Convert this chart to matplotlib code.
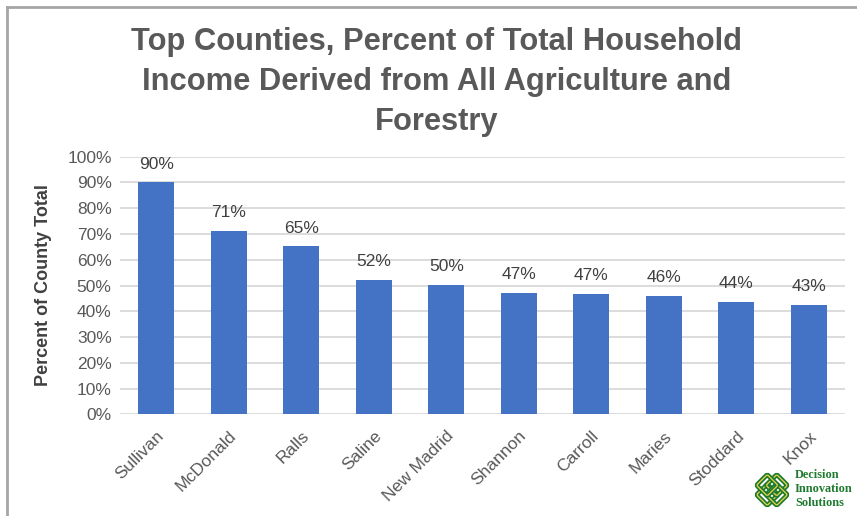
import matplotlib.pyplot as plt
from matplotlib.patches import FancyBboxPatch
from matplotlib.lines import Line2D
from matplotlib.ticker import PercentFormatter
from matplotlib.transforms import Affine2D

counties = ["Sullivan", "McDonald", "Ralls", "Saline", "New Madrid",
            "Shannon", "Carroll", "Maries", "Stoddard", "Knox"]
percent = [90.0, 71.1, 65.2, 52.1, 50.3, 47.1, 46.7, 45.9, 43.6, 42.6]
yticks = [0, 10, 20, 30, 40, 50, 60, 70, 80, 90, 100]

plt.rcParams['font.family'] = ['Liberation Sans', 'DejaVu Sans']

fig = plt.figure(figsize=(8.57, 5.16), dpi=100)
ax = fig.add_axes([120/857, 1 - 414.3/516, 725/857, (414.3 - 156.7)/516])

x = range(len(counties))
ax.bar(x, percent, width=0.5, color="#4472C4", zorder=3)
for i, v in enumerate(percent):
    ax.text(i, v + 4.2, f"{v:.0f}%", ha="center", va="bottom",
            fontsize=12.5, color="#404040", zorder=4)

ax.set_xlim(-0.5, len(counties) - 0.5)
ax.set_ylim(0, 100)
ax.set_yticks(yticks)
ax.yaxis.set_major_formatter(PercentFormatter(decimals=0))
ax.grid(axis="y", color="#D9D9D9", linewidth=1.3, zorder=0)
for s in ax.spines.values():
    s.set_visible(False)
ax.tick_params(axis="both", length=0, labelsize=12.5, labelcolor="#595959")
ax.tick_params(axis="y", pad=6)
ax.set_xticks(list(x))
ax.set_xticklabels(counties, rotation=45, ha="right", rotation_mode="anchor")
ax.tick_params(axis="x", pad=10)

fig.text(44/857, 1 - 285/516, "Percent of County Total", rotation=90,
         ha="center", va="center", fontsize=13, fontweight="bold", color="#404040")

fig.text(437/857, 1 - 82/516,
         "Top Counties, Percent of Total Household\nIncome Derived from All Agriculture and\nForestry",
         ha="center", va="center", fontsize=22.2, fontweight="bold",
         color="#595959", linespacing=1.42)

# outer border (top and left)
fig.add_artist(Line2D([7/857, 7/857], [0, 1 - 7/516], transform=fig.transFigure,
                      color="#A6A6A6", linewidth=2))
fig.add_artist(Line2D([7/857, 1], [1 - 7/516, 1 - 7/516], transform=fig.transFigure,
                      color="#A6A6A6", linewidth=2))

# logo
lax = fig.add_axes([750/857, 1 - 511/516, 44/857, 42/516])
lax.set_xlim(-1, 1)
lax.set_ylim(-1, 1)
lax.set_aspect("equal")
lax.axis("off")
rot = Affine2D().rotate_deg(45) + lax.transData
for cx, cy in [(-0.32, 0), (0.32, 0), (0, -0.32), (0, 0.32)]:
    lax.add_patch(FancyBboxPatch((cx - 0.28, cy - 0.28), 0.56, 0.56,
                                 boxstyle="round,pad=0.08", transform=rot,
                                 facecolor="none", edgecolor="#1E7A2E", linewidth=3.4))
    lax.add_patch(FancyBboxPatch((cx - 0.28, cy - 0.28), 0.56, 0.56,
                                 boxstyle="round,pad=0.08", transform=rot,
                                 facecolor="none", edgecolor="#E8D44D", linewidth=0.9))
fig.text(795/857, 1 - 489/516, "Decision\nInnovation\nSolutions", ha="left", va="center",
         fontsize=8.8, fontweight="bold", color="#1E7A2E",
         family=["Liberation Serif", "DejaVu Serif"], linespacing=1.2)

fig.savefig("out.png", dpi=100)
